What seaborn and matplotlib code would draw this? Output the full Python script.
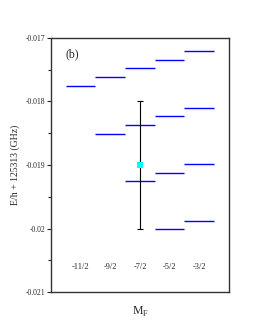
import numpy as np
import pandas as pd
import matplotlib
matplotlib.use("Agg")
import matplotlib.pyplot as plt
import seaborn as sns

# M_F columns and the hyperfine levels (GHz offset)
mf_labels = ["-11/2", "-9/2", "-7/2", "-5/2", "-3/2"]
mf_pos = [1, 2, 3, 4, 5]
niveis_11 = [-0.01776]
niveis_9 = [-0.01762, -0.01851]
niveis_7 = [-0.01748, -0.01837, -0.01925]
niveis_5 = [-0.01734, -0.01823, -0.01912, -0.02000]
niveis_3 = [-0.01720, -0.01810, -0.01899, -0.01988]

# medida experimental
exp_x = [3]
exp_y = [-0.0190]
exp_err = [0.0010]

sns.set_style("ticks")
plt.rcParams['font.family'] = ['Liberation Serif', 'DejaVu Serif']

linhas = []
for p, nv in zip(mf_pos, [niveis_11, niveis_9, niveis_7, niveis_5, niveis_3]):
    for v in nv:
        linhas.append({"x": p, "E": v})
dtLinhas = pd.DataFrame(linhas)

fig = plt.figure(figsize=(2.55, 3.3), dpi=100)
ax = fig.add_axes([0.2, 0.115, 0.698, 0.77])

ax.hlines(dtLinhas["E"], dtLinhas["x"] - 0.5, dtLinhas["x"] + 0.5, color="blue", lw=1)
ax.errorbar(exp_x, exp_y, yerr=exp_err, fmt="none", ecolor="black", elinewidth=0.8, capsize=2.5, capthick=0.8)
sns.scatterplot(x=exp_x, y=exp_y, ax=ax, marker="s", s=18, color="cyan", edgecolor="none", zorder=5)

for p, lab in zip(mf_pos, mf_labels):
    ax.text(p, -0.0206, lab, ha="center", va="center", fontsize=6)
ax.text(0.5, -0.01726, "(b)", ha="left", va="center", fontsize=8.5)

ax.set_xlim(0, 6)
ax.set_ylim(-0.021, -0.017)
ax.set_xticks([])
ax.set_yticks([-0.021, -0.020, -0.019, -0.018, -0.017])
ax.set_yticklabels(["-0.021", "-0.02", "-0.019", "-0.018", "-0.017"], fontsize=5.5)
ax.set_yticks(np.arange(-0.0205, -0.017, 0.001), minor=True)
ax.tick_params(axis="y", which="major", length=3, width=0.8, direction="out", pad=1)
ax.tick_params(axis="y", which="minor", length=2, width=0.8, direction="out")
for s in ax.spines.values():
    s.set_linewidth(1)
    s.set_color("#333333")

ax.set_ylabel("E/h + 125313 (GHz)", fontsize=7, labelpad=4)
ax.set_xlabel("M$_\\mathregular{F}$", fontsize=8.5, labelpad=9)

fig.savefig("out.png", dpi=100)
